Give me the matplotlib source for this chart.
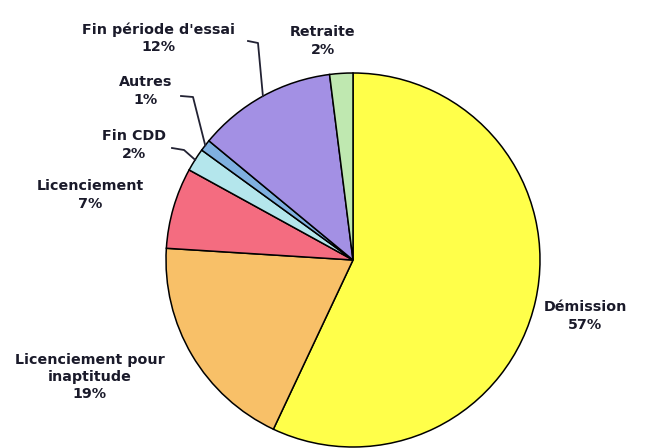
import numpy as np
import matplotlib.pyplot as plt

# data
labels = ['Démission', 'Licenciement pour\ninaptitude', 'Licenciement', 'Fin CDD',
          'Autres', "Fin période d'essai", 'Retraite']
values = [57, 19, 7, 2, 1, 12, 2]
colors = ['#FFFF4A', '#F8C068', '#F46C80', '#B4E6EC', '#7FB0E0', '#A390E4', '#BFE8B0']

W, H = 645, 448
cx, cy, r = 353, 260, 187  # pie centre / radius in pixels


def to_data(px, py):
    return (px - cx) / r, (cy - py) / r


fig = plt.figure(figsize=(W / 100, H / 100), dpi=100)
ax = fig.add_axes([0, 0, 1, 1])

wedges, _ = ax.pie(values, colors=colors, startangle=90, counterclock=False,
                   radius=1, center=(0, 0),
                   wedgeprops=dict(edgecolor='black', linewidth=1.1))

# pie() resets the limits, so set them afterwards
ax.set_aspect('auto')
ax.set_xlim(-cx / r, (W - cx) / r)
ax.set_ylim(-(H - cy) / r, cy / r)
ax.axis('off')

# label text positions (pixel centres)
label_pos = {
    'Démission': (585, 316),
    'Licenciement pour\ninaptitude': (90, 377),
    'Licenciement': (90, 195),
    'Fin CDD': (134, 145),
    'Autres': (146, 91),
    "Fin période d'essai": (159, 38),
    'Retraite': (323, 41),
}
# knees of the leader lines (pixels)
leaders = {
    'Fin CDD': [(172, 148), (184, 150)],
    'Autres': [(181, 96), (193, 97)],
    "Fin période d'essai": [(248, 41), (258, 43)],
}

for w, lab, v in zip(wedges, labels, values):
    px, py = label_pos[lab]
    tx, ty = to_data(px, py)
    ax.text(tx, ty, f'{lab}\n{v}%', ha='center', va='center', fontsize=10.3,
            fontweight='bold', color='#1a1a2a', linespacing=1.3)
    if lab in leaders:
        ang = np.deg2rad((w.theta1 + w.theta2) / 2)
        pts = [to_data(*p) for p in leaders[lab]] + [(np.cos(ang), np.sin(ang))]
        xs, ys = zip(*pts)
        ax.plot(xs, ys, color='#222233', lw=1.3)

fig.savefig('out.png', dpi=100, facecolor='white')
